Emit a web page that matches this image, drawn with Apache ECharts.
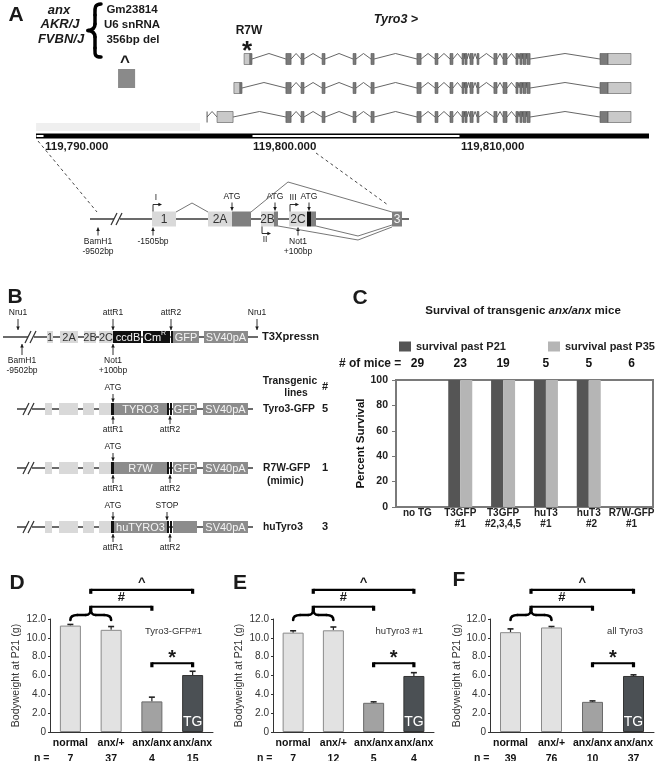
<!DOCTYPE html>
<html>
<head>
<meta charset="utf-8"/>
<title>Tyro3 transgenes rescue anx/anx mice</title>
<script src="https://cdn.jsdelivr.net/npm/echarts@6/dist/echarts.min.js"></script>
<style>
  html, body { margin: 0; padding: 0; background: #fff; }
  #main { width: 662px; height: 761px; }
</style>
</head>
<body>
<div id="main"></div>
<script type="text/javascript">
// ---- A (top): Tyro3 locus, positions in kb after 119,790,000 ----
var firstExons = [[9.62, 9.90, 10.0], [9.13, 9.42, 9.52], [8.32, 9.09, 9.09]]; // start, utr end, end
var upstreamStart = [null, null, 7.84];
var innerExons = [[11.63, 11.88], [12.36, 12.50], [13.37, 13.51], [14.86, 15.00], [15.72, 15.87],
  [17.93, 18.13], [18.80, 18.94], [19.52, 19.66], [20.10, 20.19], [20.24, 20.34], [20.48, 20.63],
  [20.82, 20.91], [21.63, 21.78], [22.07, 22.26], [22.69, 22.79], [22.88, 22.98], [23.03, 23.17], [23.22, 23.37]];
var lastExon = [26.73, 27.12, 28.22]; // start, cds end, end
var anxDeletion = [3.56, 4.38];
var coordTicks = [0, 10, 20];
var coordLabels = ['119,790.000', '119,800.000', '119,810,000'];
var coordShade = [-0.38, 7.5];
var genomeMin = -0.385, genomeMax = 29.087;

// ---- A (bottom) and B: construct schematics, drawing units ----
var detailRow = {
  y: 219, from: 90, to: 409, cut: 117, h: 15, arrow: 8,
  exons: [[152, 176, 'L', '1'], [208, 232, 'L', '2A'], [232, 251, 'D'], [261, 274, 'L', '2B'], [274, 278, 'D'],
    [289, 307, 'L', '2C'], [307, 311, 'K'], [311, 316, 'D'], [392, 402, 'D', '3']],
  marks: [[98, 'below', 'BamH1\n-9502bp'], [153, 'below', '-1505bp'], [298, 'below', 'Not1\n+100bp'],
    [232, 'above', 'ATG'], [275, 'above', 'ATG'], [309, 'above', 'ATG']],
  starts: [[153, 'above', 'I'], [262, 'below', 'II'], [290, 'above', 'III']]
};
var constructRows = [
  {y: 337, from: 3, to: 258, cut: 31, h: 12, arrow: 11, name: 'T3Xpressn', nameSize: 11.2,
    exons: [[47, 53, 'L', '1'], [60, 78, 'L', '2A'], [84, 96, 'L', '2B'], [99, 113, 'L', '2C'], [113, 115, 'K'],
      [115, 141, 'K', 'ccdB'], [143, 168, 'K', 'Cm^R'], [168, 170, 'K'], [171, 173, 'K'],
      [173, 199, 'G', 'GFP'], [204, 248, 'G', 'SV40pA']],
    marks: [[18, 'above', 'Nru1'], [257, 'above', 'Nru1'], [113, 'above', 'attR1'], [171, 'above', 'attR2'],
      [22, 'below', 'BamH1\n-9502bp'], [113, 'below', 'Not1\n+100bp']]},
  {y: 409, from: 17, to: 253, cut: 29, h: 12, arrow: 8, name: 'Tyro3-GFP', lines: 5,
    exons: [[45, 52, 'L'], [59, 78, 'L'], [83, 94, 'L'], [99, 111, 'L'], [111, 114, 'K'], [114, 167, 'G', 'TYRO3'],
      [167, 169, 'K'], [170, 172, 'K'], [173, 197, 'G', 'GFP'], [203, 248, 'G', 'SV40pA']],
    marks: [[113, 'above', 'ATG'], [113, 'below', 'attR1'], [170, 'below', 'attR2']]},
  {y: 468, from: 17, to: 253, cut: 29, h: 12, arrow: 8, name: 'R7W-GFP', sub: '(mimic)', lines: 1,
    exons: [[45, 52, 'L'], [59, 78, 'L'], [83, 94, 'L'], [99, 111, 'L'], [111, 114, 'K'], [114, 167, 'G', 'R7W'],
      [167, 169, 'K'], [170, 172, 'K'], [173, 197, 'G', 'GFP'], [203, 248, 'G', 'SV40pA']],
    marks: [[113, 'above', 'ATG'], [113, 'below', 'attR1'], [170, 'below', 'attR2']]},
  {y: 527, from: 17, to: 253, cut: 29, h: 12, arrow: 8, name: 'huTyro3', lines: 3,
    exons: [[45, 52, 'L'], [59, 78, 'L'], [83, 94, 'L'], [99, 111, 'L'], [111, 114, 'K'], [114, 167, 'G', 'huTYRO3'],
      [167, 169, 'K'], [170, 172, 'K'], [173, 197, 'G'], [203, 248, 'G', 'SV40pA']],
    marks: [[113, 'above', 'ATG'], [167, 'above', 'STOP'], [113, 'below', 'attR1'], [170, 'below', 'attR2']]}
];

// ---- C: survival ----
var survivalGroups = ['no TG', 'T3GFP\n#1', 'T3GFP\n#2,3,4,5', 'huT3\n#1', 'huT3\n  #2', 'R7W-GFP\n#1'];
var miceCounts = [29, 23, 19, 5, 5, 6];
var pastP21 = [0, 100, 100, 100, 100, 0];
var pastP35 = [0, 100, 100, 100, 100, 0];

// ---- D, E, F: bodyweight at P21 ----
var genotypes = ['normal', 'anx/+', 'anx/anx', 'anx/anx'];
var weightTyro3GFP = [11.3, 10.85, 3.25, 6.05];
var errTyro3GFP = [0.12, 0.35, 0.45, 0.4];
var nTyro3GFP = [7, 37, 4, 15];
var weightHuTyro3 = [10.55, 10.8, 3.1, 5.95];
var errHuTyro3 = [0.2, 0.35, 0.1, 0.35];
var nHuTyro3 = [7, 12, 5, 4];
var weightAllTyro3 = [10.6, 11.1, 3.2, 5.95];
var errAllTyro3 = [0.35, 0.1, 0.1, 0.12];
var nAllTyro3 = [39, 76, 10, 37];

var FAMILY = '"Liberation Sans", Arial, Helvetica, sans-serif';
var INK = '#1a1a1a';
var FILLS = {L: '#d9d9d9', D: '#7f7f7f', K: '#111111', G: '#8c8c8c'};

function font(size, weight, style) {
  return [style || 'normal', weight || 'normal', size + 'px', FAMILY].join(' ');
}

var chart = echarts.init(document.getElementById('main'));

function tri(tx, ty, dir, s) {
  var p;
  if (dir === 'down') p = [[tx - s, ty - 2 * s], [tx + s, ty - 2 * s], [tx, ty]];
  else if (dir === 'up') p = [[tx - s, ty + 2 * s], [tx + s, ty + 2 * s], [tx, ty]];
  else p = [[tx - 2 * s, ty - s], [tx - 2 * s, ty + s], [tx, ty]];
  return {type: 'polygon', shape: {points: p}, style: {fill: INK}};
}
function seg(a, b, stroke, lw, dash) {
  return {type: 'line', shape: {x1: a[0], y1: a[1], x2: b[0], y2: b[1]},
    style: {stroke: stroke || INK, lineWidth: lw || 1, lineDash: dash || null}};
}
function txt(text, x, y, f, align, valign, fill, lh) {
  return {type: 'text', style: {text: text, x: x, y: y, font: f, textAlign: align || 'center',
    textVerticalAlign: valign || 'middle', fill: fill || INK, lineHeight: lh || null}};
}

// one construct: baseline, exon boxes, arrows with notes
function drawRow(row, api, big) {
  var pt = function (x, y) { return api.coord([x, y]); };
  var y = row.y, h = row.h, kids = [];
  kids.push(seg(pt(row.from, y), pt(row.to, y), '#3a3a3a', 1.6));
  if (row.cut != null) {
    var c = pt(row.cut, y);
    kids.push({type: 'rect', shape: {x: c[0] - 3, y: c[1] - 3, width: 6, height: 6}, style: {fill: '#fff'}});
    kids.push(seg([c[0] - 6, c[1] + 6], [c[0], c[1] - 6], '#333', 1.2));
    kids.push(seg([c[0] - 1, c[1] + 6], [c[0] + 5, c[1] - 6], '#333', 1.2));
  }
  row.exons.forEach(function (e) {
    var a = pt(e[0], y - h / 2), b = pt(e[1], y + h / 2);
    kids.push({type: 'rect', shape: {x: a[0], y: a[1], width: b[0] - a[0], height: b[1] - a[1]},
      style: {fill: FILLS[e[2]]}});
    if (e[3]) {
      var cx = (a[0] + b[0]) / 2, cy = (a[1] + b[1]) / 2 + 0.5;
      var col = e[2] === 'L' ? '#333' : '#f4f4f4';
      var fs = big ? 12 : 11;
      if (e[3].indexOf('^') > 0) {
        var parts = e[3].split('^');
        kids.push(txt(parts[0], cx - 3, cy, font(fs), 'center', 'middle', col));
        kids.push(txt(parts[1], cx + 8, cy - 4, font(7), 'center', 'middle', col));
      } else {
        kids.push(txt(e[3], cx, cy, font(fs), 'center', 'middle', col));
      }
    }
  });
  row.marks.forEach(function (m) {
    var up = m[1] === 'above';
    var tip = up ? pt(m[0], y - h / 2 - 1) : pt(m[0], y + h / 2 + 1);
    var tail = up ? [tip[0], tip[1] - row.arrow] : [tip[0], tip[1] + row.arrow];
    kids.push(seg(tip, tail, INK, 0.9));
    kids.push(tri(tip[0], tip[1], up ? 'down' : 'up', 1.8));
    kids.push(txt(m[2], tail[0], up ? tail[1] - 1 : tail[1] + 1, font(8.5), 'center', up ? 'bottom' : 'top', INK, 10));
  });
  (row.starts || []).forEach(function (s) {
    var up = s[1] === 'above';
    var y0 = pt(s[0], up ? y - h / 2 : y + h / 2);
    var y1 = [y0[0], up ? y0[1] - 7 : y0[1] + 7];
    kids.push(seg(y0, y1, INK, 0.9));
    kids.push(seg(y1, [y1[0] + 6, y1[1]], INK, 0.9));
    kids.push(tri(y1[0] + 9, y1[1], 'right', 1.8));
    kids.push(txt(s[2], y1[0] + 3, up ? y1[1] - 2 : y1[1] + 2, font(8.5), 'center', up ? 'bottom' : 'top'));
  });
  if (row.name) {
    var n = pt(row.sub || row.lines ? 263 : 262, y);
    var fs = row.nameSize || 10.3;
    kids.push(txt(row.name, n[0], n[1], font(fs, 'bold'), 'left'));
    if (row.sub) kids.push(txt(row.sub, n[0] + 4, n[1] + 13, font(fs, 'bold'), 'left'));
    if (row.lines != null) kids.push(txt(String(row.lines), pt(325, y)[0], n[1], font(11, 'bold')));
  }
  return kids;
}

function renderDetail(params, api) {
  var kids = drawRow(detailRow, api, true);
  var P = function (p) { return api.coord(p); };
  // alternative splicing of exon 2 variants into exon 3
  var splices = [[[176, 212], [192, 203], [208, 212]], [[251, 212], [288, 182], [392, 212]],
    [[278, 226], [358, 240], [392, 227]], [[316, 226], [358, 236], [392, 225]]];
  splices.forEach(function (s) {
    kids.push({type: 'polyline', shape: {points: s.map(P)}, style: {stroke: '#666', lineWidth: 0.9, fill: null}});
  });
  kids.push(seg(P([38, 141]), P([97, 212]), '#333', 0.9, [3, 3]));
  kids.push(seg(P([316, 153]), P([388, 205]), '#333', 0.9, [3, 3]));
  return {type: 'group', children: kids};
}
function renderConstruct(params, api) {
  return {type: 'group', children: drawRow(constructRows[params.dataIndex], api, false)};
}

function renderTranscript(params, api) {
  var i = params.dataIndex;
  var X = function (v) { return api.coord([v, i])[0]; };
  var yc = api.coord([0, i])[1], h = 11;
  var f = firstExons[i], kids = [];
  var blocks = [[f[0], f[2]]].concat(innerExons, [[lastExon[0], lastExon[2]]]);
  var prev = upstreamStart[i];
  if (prev != null) kids.push(seg([X(prev), yc - h / 2], [X(prev), yc + h / 2], '#555', 1));
  blocks.forEach(function (bl, k) {
    var s = k === 0 ? prev : blocks[k - 1][1];
    if (s == null) return;
    var x1 = X(s), x2 = X(bl[0]);
    kids.push({type: 'polyline', shape: {points: [[x1, yc], [(x1 + x2) / 2, yc - h / 2], [x2, yc]]},
      style: {stroke: '#555', lineWidth: 0.9, fill: null}});
  });
  var rects = [[f[0], f[1], 'L'], [f[1], f[2], 'D']]
    .concat(innerExons.map(function (e) { return [e[0], e[1], 'D']; }))
    .concat([[lastExon[0], lastExon[1], 'D'], [lastExon[1], lastExon[2], 'L']]);
  rects.forEach(function (r) {
    if (r[1] <= r[0]) return;
    kids.push({type: 'rect', shape: {x: X(r[0]), y: yc - h / 2, width: X(r[1]) - X(r[0]), height: h},
      style: {fill: r[2] === 'L' ? '#c9c9c9' : '#7a7a7a', stroke: '#555', lineWidth: 0.6}});
  });
  return {type: 'group', children: kids};
}

function renderLocus(params, api) {
  var cs = params.coordSys, bottom = cs.y + cs.height;
  var X = function (v) { return api.coord([v, 0])[0]; };
  var kids = [];
  kids.push({type: 'rect', shape: {x: X(coordShade[0]), y: bottom - 8.5, width: X(coordShade[1]) - X(coordShade[0]), height: 8},
    style: {fill: '#efefef'}});
  kids.push({type: 'rect', shape: {x: X(anxDeletion[0]), y: cs.y + 24.5, width: X(anxDeletion[1]) - X(anxDeletion[0]), height: 19},
    style: {fill: '#8a8a8a'}});
  kids.push({type: 'rect', shape: {x: X(genomeMin), y: bottom + 2, width: X(genomeMax) - X(genomeMin), height: 5},
    style: {fill: '#000'}});
  var bounds = [genomeMin].concat(coordTicks, [genomeMax]);
  for (var k = 0; k < bounds.length - 1; k += 2) {
    kids.push({type: 'rect', shape: {x: X(bounds[k]) + 0.5, y: bottom + 3.5, width: X(bounds[k + 1]) - X(bounds[k]) - 1, height: 2},
      style: {fill: '#fff'}});
  }
  coordTicks.forEach(function (t, j) {
    kids.push(txt(coordLabels[j], X(t) + 1, bottom + 15, font(11.5, 'bold'), 'left'));
  });
  return {type: 'group', children: kids};
}

// error bars drawn up from the bar top
function renderErr(params, api) {
  var i = api.value(0), v = api.value(1), e = api.value(2);
  var base = api.coord([i, v]), top = api.coord([i, v + e]);
  return {type: 'group', children: [seg(base, top, '#222', 1.2), seg([top[0] - 3, top[1]], [top[0] + 3, top[1]], '#222', 1.6)]};
}

var weightPanels = [
  {left: 50, width: 163, title: 'Tyro3-GFP#1', values: weightTyro3GFP, err: errTyro3GFP, n: nTyro3GFP, gap: 28},
  {left: 273, width: 161, title: 'huTyro3 #1', values: weightHuTyro3, err: errHuTyro3, n: nHuTyro3, gap: 28},
  {left: 490, width: 164, title: 'all Tyro3', values: weightAllTyro3, err: errAllTyro3, n: nAllTyro3, gap: 25}
];
var barFills = ['#e2e2e2', '#e2e2e2', '#a2a2a2', '#4b5054'];
var barEdges = ['#8a8a8a', '#8a8a8a', '#6a6a6a', '#333'];

var grids = [
  {left: 36, top: 44.5, width: 613, height: 87, show: false, outerBoundsMode: 'none'},
  {left: 0, top: 0, width: 662, height: 761, show: false, outerBoundsMode: 'none'},
  {left: 396, top: 380, width: 257, height: 127, show: true, borderColor: '#7a7a7a', borderWidth: 2,
    backgroundColor: '#fff', outerBoundsMode: 'none'}
];
var xAxes = [
  {gridIndex: 0, type: 'value', min: genomeMin, max: genomeMax, show: false},
  {gridIndex: 1, type: 'value', min: 0, max: 662, show: false},
  {gridIndex: 2, type: 'category', data: survivalGroups, axisLine: {show: false}, axisTick: {show: false},
    axisLabel: {interval: 0, margin: 0, lineHeight: 11.5, fontWeight: 'bold', fontSize: 10, fontFamily: FAMILY, color: '#222'}},
  {gridIndex: 2, type: 'category', position: 'top', data: miceCounts.map(String), axisLine: {show: false}, axisTick: {show: false},
    axisLabel: {interval: 0, margin: 10, fontWeight: 'bold', fontSize: 12, fontFamily: FAMILY, color: '#111'}}
];
var yAxes = [
  {gridIndex: 0, type: 'category', data: ['t1', 't2', 't3'], inverse: true, show: false},
  {gridIndex: 1, type: 'value', min: 0, max: 761, inverse: true, show: false},
  {gridIndex: 2, type: 'value', min: 0, max: 100, interval: 20, splitLine: {show: false},
    axisLine: {show: false}, axisTick: {show: true, length: 4, lineStyle: {color: '#777'}},
    axisLabel: {margin: 8, fontWeight: 'bold', fontSize: 10.5, fontFamily: FAMILY, color: '#222'},
    name: 'Percent Survival', nameLocation: 'middle', nameGap: 22,
    nameTextStyle: {fontWeight: 'bold', fontSize: 11.5, fontFamily: FAMILY, color: '#111'}}
];
var series = [
  {type: 'custom', xAxisIndex: 0, yAxisIndex: 0, data: [[0, 0], [0, 1], [0, 2]], renderItem: renderTranscript, silent: true},
  {type: 'custom', xAxisIndex: 0, yAxisIndex: 0, data: [[0, 0]], renderItem: renderLocus, silent: true},
  {type: 'custom', xAxisIndex: 1, yAxisIndex: 1, data: [[0, 0]], renderItem: renderDetail, silent: true},
  {type: 'custom', xAxisIndex: 1, yAxisIndex: 1, data: constructRows.map(function (r, i) { return [0, i]; }),
    renderItem: renderConstruct, silent: true},
  {name: 'survival past P21', type: 'bar', xAxisIndex: 2, yAxisIndex: 2, data: pastP21, barWidth: 12, barGap: '0%',
    itemStyle: {color: '#555555'}, silent: true},
  {name: 'survival past P35', type: 'bar', xAxisIndex: 2, yAxisIndex: 2, data: pastP35, barWidth: 12, barGap: '0%',
    itemStyle: {color: '#b5b5b5'}, silent: true}
];

weightPanels.forEach(function (p, k) {
  var g = grids.length;
  grids.push({left: p.left, width: p.width, top: 619, bottom: 29, outerBoundsMode: 'none'});
  xAxes.push({gridIndex: g, type: 'category', data: genotypes.map(function (s, i) { return s + i; }),
    axisLine: {lineStyle: {color: '#333'}}, axisTick: {show: false},
    axisLabel: {interval: 0, margin: 3, formatter: function (v, i) {
      return '{g|' + genotypes[i] + '}\n{g|' + p.n[i] + '}';
    }, rich: {g: {fontWeight: 'bold', fontSize: 10.5, fontFamily: FAMILY, color: '#111', lineHeight: 16}}}});
  yAxes.push({gridIndex: g, type: 'value', min: 0, max: 12, interval: 2, splitLine: {show: false},
    axisLine: {show: true, lineStyle: {color: '#333'}}, axisTick: {show: true, length: 2, lineStyle: {color: '#333'}},
    axisLabel: {margin: 4, fontSize: 10, fontFamily: FAMILY, color: '#333',
      formatter: function (v) { return v === 0 ? '0' : v.toFixed(1); }},
    name: 'Bodyweight at P21 (g)', nameLocation: 'middle', nameGap: p.gap,
    nameTextStyle: {fontSize: 10.5, fontFamily: FAMILY, color: '#333'}});
  series.push({type: 'bar', xAxisIndex: xAxes.length - 1, yAxisIndex: yAxes.length - 1, barWidth: 21, silent: true,
    data: p.values.map(function (v, i) {
      var d = {value: v, itemStyle: {color: barFills[i], borderColor: barEdges[i], borderWidth: 1}};
      if (i === 3) d.label = {show: true, position: 'insideBottom', distance: 3, formatter: 'TG', color: '#fff',
        fontSize: 14, fontFamily: FAMILY};
      return d;
    })});
  series.push({type: 'custom', xAxisIndex: xAxes.length - 1, yAxisIndex: yAxes.length - 1, silent: true,
    encode: {x: 0, y: 1}, renderItem: renderErr,
    data: p.values.map(function (v, i) { return [i, v, p.err[i]]; })});
  p.grid = g;
});

var legendCommon = {itemWidth: 12, itemHeight: 10, icon: 'rect', selectedMode: false, top: 336,
  textStyle: {fontWeight: 'bold', fontSize: 11, fontFamily: FAMILY, color: '#222'}};

chart.setOption({
  animation: false,
  backgroundColor: '#fff',
  grid: grids, xAxis: xAxes, yAxis: yAxes, series: series,
  legend: [Object.assign({left: 394, data: ['survival past P21']}, legendCommon),
    Object.assign({left: 543, data: ['survival past P35']}, legendCommon)]
});

// text, braces and significance brackets
var g = [];
function gtext(text, x, y, f, align, extra) {
  return {type: 'text', x: x, y: y, silent: true,
    style: Object.assign({text: text, font: f, fill: INK, textAlign: align || 'center', textVerticalAlign: 'middle'}, extra || {})};
}
function gcurve(p0, c1, c2, p1, lw) {
  return {type: 'bezierCurve', silent: true,
    shape: {x1: p0[0], y1: p0[1], cpx1: c1[0], cpy1: c1[1], cpx2: c2[0], cpy2: c2[1], x2: p1[0], y2: p1[1]},
    style: {stroke: '#000', lineWidth: lw, fill: null, lineCap: 'round'}};
}
function gline(p0, p1, lw) {
  return {type: 'line', silent: true, shape: {x1: p0[0], y1: p0[1], x2: p1[0], y2: p1[1]},
    style: {stroke: '#000', lineWidth: lw, lineCap: 'round'}};
}
[['A', 16, 15], ['B', 15, 297], ['C', 360, 298], ['D', 17, 583], ['E', 240, 583], ['F', 459, 580]].forEach(function (l) {
  g.push(gtext(l[0], l[1], l[2], font(21, 'bold')));
});
g.push(gtext('anx', 59, 10, font(13, 'bold', 'italic')));
g.push(gtext('AKR/J', 60, 24, font(13, 'bold', 'italic')));
g.push(gtext('FVBN/J', 61, 39, font(13, 'bold', 'italic')));
// vertical curly brace
g.push(gcurve([101, 4], [94, 4], [95, 9], [95, 15], 3.5));
g.push(gline([95, 15], [95, 24], 3.5));
g.push(gcurve([95, 24], [95, 28], [93, 30], [88, 30.5], 3.5));
g.push(gcurve([88, 30.5], [93, 31], [95, 33], [95, 37], 3.5));
g.push(gline([95, 37], [95, 48], 3.5));
g.push(gcurve([95, 48], [95, 54], [94, 57], [101, 57], 3.5));
g.push(gtext('Gm23814', 132, 10, font(11.5, 'bold')));
g.push(gtext('U6 snRNA', 132, 25, font(11.5, 'bold')));
g.push(gtext('356bp del', 133, 40, font(11.5, 'bold')));
g.push(gtext('^', 125, 62, font(17, 'bold')));
g.push(gtext('R7W', 249, 31, font(12, 'bold')));
g.push(gtext('*', 247, 52, font(26, 'bold')));
g.push(gtext('Tyro3 >', 396, 20, font(12.5, 'bold', 'italic')));
g.push(gtext('Transgenic', 290, 381, font(10.3, 'bold')));
g.push(gtext('lines', 296, 393, font(10.3, 'bold')));
g.push(gtext('#', 325, 387, font(11, 'bold')));
g.push(gtext('{b|Survival of transgenic }{i|anx/anx}{b| mice}', 523, 311, font(11.5, 'bold'), 'center', {
  rich: {b: {font: font(11.5, 'bold'), fill: INK}, i: {font: font(11.5, 'bold', 'italic'), fill: INK}}}));
g.push(gtext('# of mice =', 339, 364, font(12, 'bold'), 'left'));

var heights = {caret: 15.1, hash: 13.3, star: 7.3, braceEnd: 11.9, braceTip: 13.1};
function bracket(x1, x2, y, sym, size, dy) {
  g.push({type: 'line', silent: true, shape: {x1: x1, y1: y, x2: x2, y2: y}, style: {stroke: '#000', lineWidth: 2.2}});
  [x1, x2].forEach(function (x) {
    g.push({type: 'rect', silent: true, shape: {x: x - 1.6, y: y - 1, width: 3.2, height: 5}, style: {fill: '#000'}});
  });
  g.push(gtext(sym, (x1 + x2) / 2, y + dy, font(size, 'bold')));
}
weightPanels.forEach(function (p) {
  var px = function (i, v) { return chart.convertToPixel({gridIndex: p.grid}, [i, v]); };
  var a = px(0, heights.braceEnd)[0], b = px(1, heights.braceEnd)[0];
  var yb = px(0, heights.braceEnd)[1], yt = px(0, heights.braceTip)[1], ym = yb - 5;
  var m = (a + b) / 2;
  g.push(gcurve([a, yb], [a, ym + 1], [a + 3, ym], [a + 7, ym], 2.6));
  g.push(gline([a + 7, ym], [m - 5, ym], 2.6));
  g.push(gcurve([m - 5, ym], [m - 2, ym], [m, ym - 1], [m, yt], 2.6));
  g.push(gcurve([m, yt], [m, ym - 1], [m + 2, ym], [m + 5, ym], 2.6));
  g.push(gline([m + 5, ym], [b - 7, ym], 2.6));
  g.push(gcurve([b - 7, ym], [b - 3, ym], [b, ym + 1], [b, yb], 2.6));
  var c2 = px(2, 0)[0], c3 = px(3, 0)[0];
  bracket(m, c3, px(0, heights.caret)[1], '^', 13, -7);
  bracket(m, c2, px(0, heights.hash)[1], '#', 13, -9);
  bracket(c2, c3, px(0, heights.star)[1], '*', 20, -5);
  var top = px(3, 12);
  g.push(gtext(p.title, p.left + p.width - 11, top[1] + 12, font(9.5), 'right', {fill: '#333'}));
  g.push(gtext('n =', p.left - 16, 758, font(10.5, 'bold'), 'left'));
});
chart.setOption({graphic: {elements: g}});
</script>
</body>
</html>
